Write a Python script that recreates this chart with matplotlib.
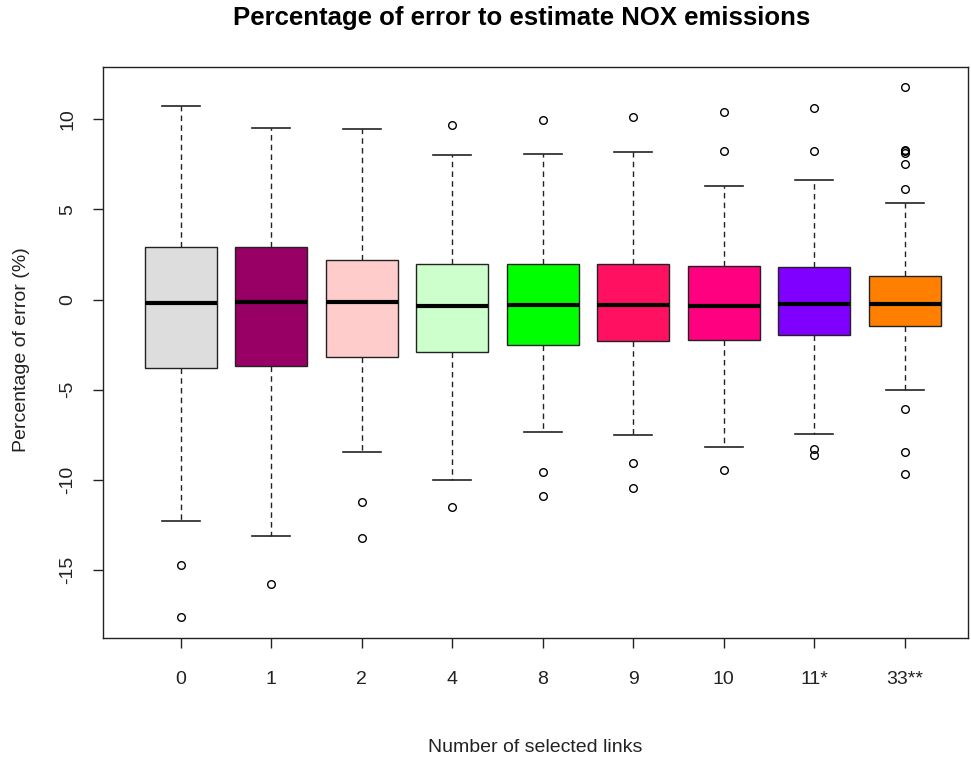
#--------------------- Importing the necessary libraries ---------------------------
import matplotlib
matplotlib.use("Agg")
import matplotlib.pyplot as plt  # for data visualization

plt.rcParams['font.family'] = ['Liberation Sans', 'DejaVu Sans']

#----------------------- Values ------------------------------------------------
labels = ['0', '1', '2', '4', '8', '9', '10', '11*', '33**']
whisker_hi = [10.72, 9.50, 9.45, 8.00, 8.10, 8.17, 6.28, 6.63, 5.35]
q3 = [2.90, 2.90, 2.17, 2.00, 1.95, 1.95, 1.89, 1.81, 1.33]
median = [-0.20, -0.12, -0.12, -0.33, -0.28, -0.28, -0.33, -0.22, -0.22]
q1 = [-3.80, -3.67, -3.17, -2.90, -2.50, -2.28, -2.26, -1.98, -1.48]
whisker_lo = [-12.30, -13.10, -8.45, -10.00, -7.33, -7.50, -8.17, -7.48, -5.00]
outliers = [
    [-14.7, -17.6],
    [-15.8],
    [-11.2, -13.2],
    [9.7, -11.5],
    [9.95, -9.55, -10.9],
    [10.15, -9.05, -10.45],
    [10.43, 8.26, -9.46],
    [10.65, 8.26, -8.28, -8.63],
    [11.78, 8.32, 8.22, 8.12, 7.54, 6.13, -6.07, -8.43, -9.67],
]
colors = ['#DDDDDD', '#990066', '#FFCCCC', '#CCFFCC', '#00FF00',
          '#FF1060', '#FF0080', '#8000FF', '#FF8000']

#----------------------- Build box statistics ----------------------------
stats = []
for i in range(len(labels)):
    stats.append({
        'label': labels[i],
        'whislo': whisker_lo[i], 'q1': q1[i], 'med': median[i],
        'q3': q3[i], 'whishi': whisker_hi[i], 'fliers': outliers[i],
    })

fig = plt.figure(figsize=(9.71, 7.6), dpi=100)
ax = fig.add_axes([0.106, 0.1605, 0.891, 0.7513])

positions = list(range(1, len(labels) + 1))
bp = ax.bxp(
    stats, positions=positions, widths=0.8, patch_artist=True,
    showfliers=True,
    boxprops=dict(edgecolor='#222222', linewidth=1.0),
    medianprops=dict(color='black', linewidth=3.0, solid_capstyle='butt'),
    whiskerprops=dict(color='#222222', linestyle=(0, (4, 3)), linewidth=1.0),
    capprops=dict(color='#222222', linewidth=1.2),
    capwidths=0.42,
    flierprops=dict(marker='o', markerfacecolor='none', markeredgecolor='black',
                    markersize=5.5, markeredgewidth=1.0, linestyle='none'),
)
for patch, c in zip(bp['boxes'], colors):
    patch.set_facecolor(c)

# axes limits and ticks
ax.set_xlim(0.14, 9.70)
ax.set_ylim(-18.77, 12.9)
ax.set_yticks([-15, -10, -5, 0, 5, 10])
ax.set_yticklabels(['-15', '-10', '-5', '0', '5', '10'], rotation=90, va='center')
ax.set_xticks(positions)
ax.set_xticklabels(labels)
ax.tick_params(axis='both', labelsize=14, length=7, width=1.0, color='#222222',
               labelcolor='#222222')
ax.tick_params(axis='y', pad=12)
ax.tick_params(axis='x', pad=17)
for s in ax.spines.values():
    s.set_linewidth(1.0)
    s.set_color('#222222')

# titles and labels
fig.text(0.537, 0.976, "Percentage of error to estimate NOX emissions",
         ha='center', va='center', fontsize=18.5, fontweight='bold')
fig.text(0.551, 0.016, "Number of selected links", ha='center', va='center',
         fontsize=14, color='#222222')
fig.text(0.022, 0.54, "Percentage of error (%)", ha='center', va='center',
         rotation=90, fontsize=14, color='#222222')

plt.savefig("out.png", dpi=100)
